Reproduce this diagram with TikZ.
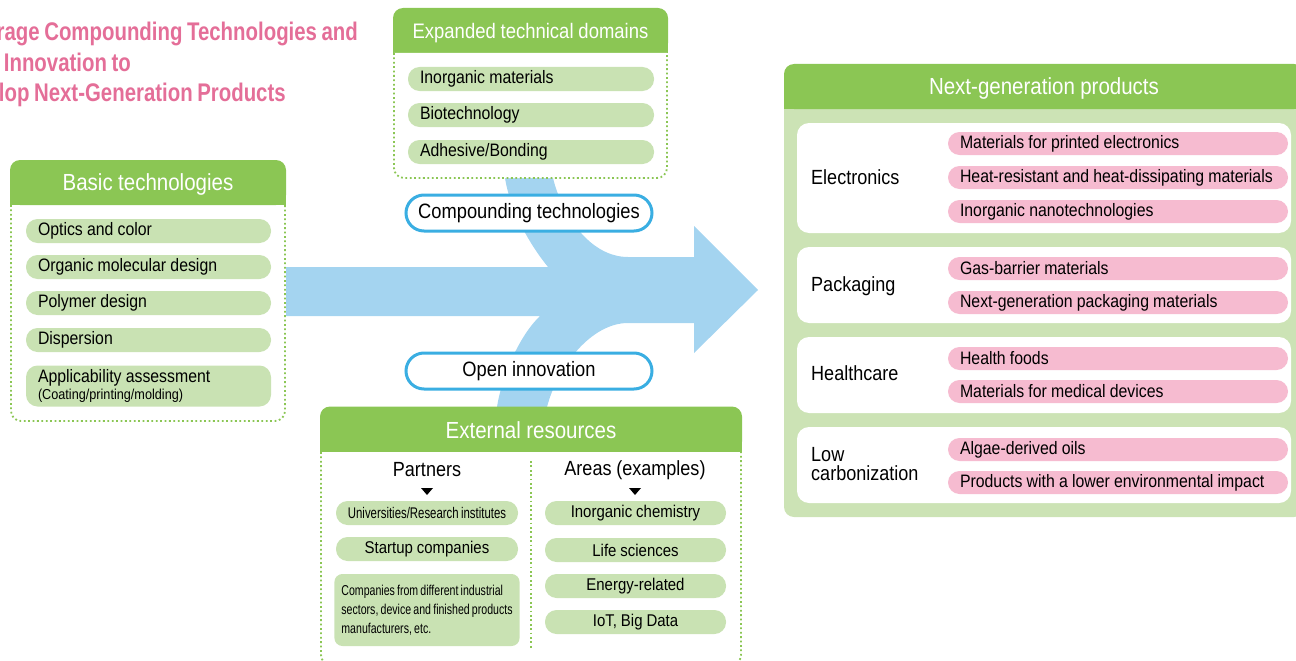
\documentclass[tikz,border=0pt]{standalone}
\usepackage{fontspec}
\setmainfont[FakeStretch=0.88, WordSpace=0.95]{Liberation Sans}
\newfontfamily\narrowfont[FakeStretch=0.74, WordSpace=0.75]{Liberation Sans}
\newfontfamily\titlefont[FakeStretch=0.8, WordSpace=0.8]{Liberation Sans}
\usetikzlibrary{positioning,calc}
\definecolor{hdrgreen}{RGB}{139,198,84}
\definecolor{pillgreen}{RGB}{201,226,179}
\definecolor{panelgreen}{RGB}{204,227,181}
\definecolor{pinkpill}{RGB}{246,187,208}
\definecolor{flowblue}{RGB}{164,212,240}
\definecolor{rimblue}{RGB}{58,174,226}
\definecolor{titlepink}{RGB}{228,110,152}

\begin{document}
\begin{tikzpicture}[x=1pt, y=-1pt,
  hdr/.style={rectangle, fill=hdrgreen, rounded corners=10pt, minimum height=45pt, inner sep=0pt},
  hdrtxt/.style={text=white, inner sep=0pt, font=\fontsize{23.3}{25}\selectfont},
  body/.style={draw=hdrgreen, line width=1.8pt, dash pattern=on 1.8pt off 2.6pt,
               rounded corners=10pt},
  item/.style={rectangle, fill=pillgreen, rounded corners=11.5pt, minimum height=24pt,
               inner xsep=12pt, inner ysep=0pt, align=flush left, font=\fontsize{18}{20}\selectfont},
  res/.style={rectangle, fill=pillgreen, rounded corners=11.5pt, minimum height=24pt,
              inner sep=0pt, align=center, font=\fontsize{17}{19}\selectfont},
  flow/.style={rectangle, draw=rimblue, line width=3pt, fill=white, rounded corners=18pt,
               minimum width=246pt, minimum height=36pt, font=\fontsize{20.8}{22}\selectfont},
  panel/.style={rectangle, fill=white, rounded corners=12pt, minimum width=494pt},
  lbl/.style={anchor=west, inner sep=0pt, align=left, font=\fontsize{20.5}{19}\selectfont},
  prod/.style={rectangle, fill=pinkpill, rounded corners=11.5pt, minimum height=23pt,
               text width=316pt, inner xsep=12pt, inner ysep=0pt, align=flush left,
               font=\fontsize{18}{20}\selectfont}
]
  \useasboundingbox (0,0) rectangle (1296,661);
  \clip (0,0) rectangle (1296,661);

  % title
  \node[anchor=north west, inner sep=0pt, align=left, text=titlepink,
        font=\titlefont\bfseries\fontsize{25.5}{30.5}\selectfont] (title) at (-50,22)
    {Leverage Compounding Technologies and\\\hspace*{-3pt}Open Innovation to\\Develop Next-Generation Products};

  % the flow behind everything
  \fill[flowblue] (286,267) -- (548,267)
    .. controls (530,245) and (510,210) .. (505,178) -- (505,170) -- (553,170) -- (553,178)
    .. controls (562,215) and (590,257) .. (628,257) -- (694,257) -- (694,226)
    -- (758,290) -- (694,353) -- (694,323) -- (628,323)
    .. controls (592,323) and (558,365) .. (547,407) -- (547,415) -- (497,415) -- (497,407)
    .. controls (502,375) and (520,335) .. (540,316) -- (286,316) -- cycle;

  % basic technologies
  \node[hdr, minimum width=276pt] (basicH) at (148,182.5) {};
  \fill[hdrgreen] (basicH.west) rectangle (basicH.south east);
  \node[hdrtxt] (basicT) at (148,184) {Basic technologies};
  \draw[body] (11,205) -- (11,421) -- (285,421) -- (285,205);
  \node[item, text width=221pt] (optics) at (148.5,231) {Optics and color};
  \node[item, text width=221pt] (organic) at (148.5,267) {Organic molecular design};
  \node[item, text width=221pt] (polymer) at (148.5,303) {Polymer design};
  \node[item, text width=221pt] (disp) at (148.5,340) {Dispersion};
  \node[item, text width=221pt, minimum height=41pt] (assess) at (148.5,386)
    {Applicability assessment\\[-3pt]{\fontsize{14.4}{14}\selectfont (Coating/printing/molding)}};

  % expanded technical domains
  \node[hdr, minimum width=275pt] (expH) at (530.5,30.5) {};
  \fill[hdrgreen] (expH.west) rectangle (expH.south east);
  \node[hdrtxt, font=\fontsize{21}{23}\selectfont] (expT) at (530.5,33) {Expanded technical domains};
  \draw[body, fill=white] (394,53) -- (394,178) -- (667,178) -- (667,53);
  \node[item, text width=222pt] (inorg) at (531,79) {Inorganic materials};
  \node[item, text width=222pt] (bio) at (531,115) {Biotechnology};
  \node[item, text width=222pt] (adh) at (531,152) {Adhesive/Bonding};

  \node[flow] (compound) at (529,213) {Compounding technologies};
  \node[flow] (openinn) at (529,371) {Open innovation};

  % external resources
  \node[hdr, minimum width=422pt] (extH) at (531,429) {};
  \fill[hdrgreen] (extH.west) rectangle (extH.south east);
  \node[hdrtxt] (extT) at (531,430) {External resources};
  \draw[body] (321,452) -- (321,665) -- (741,665) -- (741,452);
  \draw[body] (531,461) -- (531,650);
  \node[font=\fontsize{20.5}{22}\selectfont] (partners) at (427,470) {Partners};
  \node[font=\fontsize{20.5}{22}\selectfont] (areas) at (635,470) {Areas (examples)};
  \fill (421,488) -- (433,488) -- (427,495) -- cycle;
  \fill (629,488) -- (641,488) -- (635,495) -- cycle;
  \node[res, minimum width=182pt, font=\narrowfont\fontsize{15.4}{17}\selectfont] (univ) at (427,513) {Universities/Research institutes};
  \node[res, minimum width=182pt] (startup) at (427,549) {Startup companies};
  \node[res, rounded corners=8pt, minimum width=182pt, minimum height=72pt, inner xsep=7pt, align=left,
        font=\narrowfont\fontsize{14.3}{19}\selectfont] (cross) at (427,610)
    {Companies from different industrial\\sectors, device and finished products\\manufacturers, etc.};
  \node[res, minimum width=181pt] (inchem) at (635.5,513) {Inorganic chemistry};
  \node[res, minimum width=181pt] (life) at (635.5,550) {Life sciences};
  \node[res, minimum width=181pt] (energy) at (635.5,586) {Energy-related};
  \node[res, minimum width=181pt] (iot) at (635.5,622) {IoT, Big Data};

  % next-generation products
  \fill[panelgreen, rounded corners=10pt] (784,95) rectangle (1304,517);
  \node[hdr, minimum width=520pt] (nextH) at (1044,86.5) {};
  \fill[hdrgreen] (nextH.west) rectangle (nextH.south east);
  \node[hdrtxt] (nextT) at (1044,88) {Next-generation products};

  \node[panel, minimum height=110pt] (elec) at (1044,178) {};
  \node[panel, minimum height=76pt] (pack) at (1044,285) {};
  \node[panel, minimum height=76pt] (health) at (1044,375) {};
  \node[panel, minimum height=76pt] (lowc) at (1044,465) {};

  \node[lbl] (elecL) at (811,177) {Electronics};
  \node[lbl] (packL) at (811,286) {Packaging};
  \node[lbl] (healthL) at (811,373) {Healthcare};
  \node[lbl] (lowcL) at (811,464) {Low\\carbonization};

  \node[prod] (printed) at (1118,143.5) {Materials for printed electronics};
  \node[prod] (heat) at (1118,177.5) {Heat-resistant and heat-dissipating materials};
  \node[prod] (nano) at (1118,211.5) {Inorganic nanotechnologies};
  \node[prod] (gas) at (1118,268.5) {Gas-barrier materials};
  \node[prod] (nextpack) at (1118,302.5) {Next-generation packaging materials};
  \node[prod] (foods) at (1118,358.5) {Health foods};
  \node[prod] (medical) at (1118,391.5) {Materials for medical devices};
  \node[prod] (algae) at (1118,449.5) {Algae-derived oils};
  \node[prod] (lowimp) at (1118,482.5) {Products with a lower environmental impact};
\end{tikzpicture}
\end{document}
